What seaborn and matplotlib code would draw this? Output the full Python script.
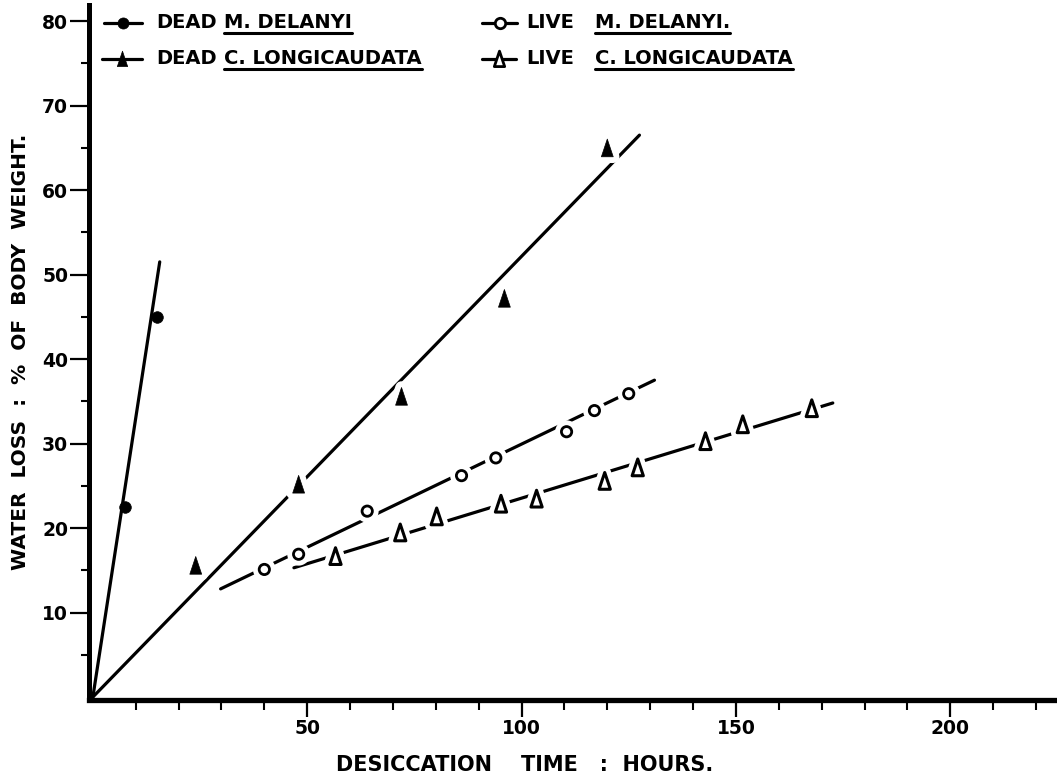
import numpy as np
import pandas as pd
import matplotlib
matplotlib.use("Agg")
import matplotlib.pyplot as plt
import seaborn as sns
from matplotlib.lines import Line2D
from matplotlib.path import Path
from matplotlib.ticker import FixedLocator
import matplotlib.patheffects as pe

# ---------------- data ----------------
dead_md_hours = [7.5, 15.0]
dead_md_loss = [22.5, 45.0]
dead_md_fit_hours = [0.0, 15.6]
dead_md_fit_loss = [0.0, 51.5]

dead_cl_hours = [24, 48, 72, 96, 120]
dead_cl_loss = [15.5, 25.1, 35.5, 47.1, 64.9]
dead_cl_fit_hours = [0.0, 127.5]
dead_cl_fit_loss = [0.0, 66.5]

live_md_hours = [40, 48, 64, 86, 94, 110.5, 117, 125]
live_md_loss = [15.1, 16.9, 22.0, 26.2, 28.3, 31.4, 33.9, 35.9]
live_md_fit_hours = [29.8, 131.0]
live_md_fit_loss = [12.8, 37.5]

live_cl_hours = [56.6, 71.7, 80.2, 95.2, 103.5, 119.4, 127.1, 142.9, 151.6, 167.7]
live_cl_loss = [16.6, 19.4, 21.3, 22.8, 23.4, 25.5, 27.1, 30.2, 32.2, 34.1]
live_cl_fit_hours = [46.9, 172.6]
live_cl_fit_loss = [15.3, 34.8]

x_major = [50, 100, 150, 200]
x_major_labels = ["50", "100", "150", "200"]
x_minor = [10, 20, 30, 40, 60, 70, 80, 90, 110, 120, 130, 140, 160, 170, 180, 190, 210, 220]
y_major = [10, 20, 30, 40, 50, 60, 70, 80]
y_major_labels = ["10", "20", "30", "40", "50", "60", "70", "80"]
y_minor = [5, 15, 25, 35, 45, 55, 65, 75]

legend_status = ["DEAD", "DEAD", "LIVE", "LIVE"]
legend_species = ["M. DELANYI", "C. LONGICAUDATA", "M. DELANYI.", "C. LONGICAUDATA"]

# ---------------- style ----------------
sns.set_style("ticks")
plt.rcParams["font.family"] = ["DejaVu Sans"]
plt.rcParams["font.weight"] = "bold"
for k in ["text.color", "axes.labelcolor", "xtick.color", "ytick.color", "axes.edgecolor"]:
    plt.rcParams[k] = "black"

W, H = 1057, 779
fig = plt.figure(figsize=(W / 100, H / 100), dpi=100)
fig.patch.set_facecolor("white")
ax = fig.add_axes([89 / W, 79 / H, 1 - 89 / W, 695 / H])
ax.set_facecolor("white")

tri = Path([(0, 1.0), (-0.62, -0.85), (0.62, -0.85), (0, 1.0)], closed=True)
halo = [pe.withStroke(linewidth=9, foreground="white")]
LW = 2.3

def fit_line(xs, ys):
    sns.lineplot(x=xs, y=ys, ax=ax, color="black", lw=LW, sort=False,
                 estimator=None, legend=False, zorder=2)

fit_line(dead_md_fit_hours, dead_md_fit_loss)
fit_line(dead_cl_fit_hours, dead_cl_fit_loss)
fit_line(live_md_fit_hours, live_md_fit_loss)
fit_line(live_cl_fit_hours, live_cl_fit_loss)

sns.scatterplot(x=dead_md_hours, y=dead_md_loss, ax=ax, marker="o", s=70,
                color="black", edgecolor="black", linewidth=0.5, zorder=4, legend=False)
sns.scatterplot(x=dead_cl_hours, y=dead_cl_loss, ax=ax, marker=tri, s=190,
                color="black", edgecolor="black", linewidth=0.5, zorder=4, legend=False)
ax.collections[-1].set_path_effects(halo)
sns.scatterplot(x=live_md_hours, y=live_md_loss, ax=ax, marker="o", s=55,
                facecolor="white", edgecolor="black", linewidth=2.0, zorder=4, legend=False)
ax.collections[-1].set_path_effects(halo)
sns.scatterplot(x=live_cl_hours, y=live_cl_loss, ax=ax, marker=tri, s=170,
                facecolor="white", edgecolor="black", linewidth=2.2, zorder=4, legend=False)
ax.collections[-1].set_path_effects(halo)

ax.set_xlim(-0.9, 224.9)
ax.set_ylim(-0.35, 81.9)

for s in ["top", "right"]:
    ax.spines[s].set_visible(False)
ax.spines["left"].set_linewidth(3.6)
ax.spines["bottom"].set_linewidth(3.8)
ax.spines["left"].set_capstyle("projecting")

ax.xaxis.set_major_locator(FixedLocator(x_major))
ax.xaxis.set_minor_locator(FixedLocator(x_minor))
ax.yaxis.set_major_locator(FixedLocator(y_major))
ax.yaxis.set_minor_locator(FixedLocator(y_minor))
ax.set_xticklabels(x_major_labels, fontsize=13.5, fontweight="bold")
ax.set_yticklabels(y_major_labels, fontsize=13.5, fontweight="bold")

ax.tick_params(axis="y", which="major", length=14, width=1.6, pad=1, color="black")
ax.tick_params(axis="y", which="minor", length=6, width=1.5, color="black")
ax.tick_params(axis="x", which="major", length=12, width=1.6, pad=2, color="black")
ax.tick_params(axis="x", which="minor", length=7, width=1.5, color="black")

ax.set_xlabel("DESICCATION    TIME   :  HOURS.", fontsize=15, fontweight="bold")
ax.xaxis.set_label_coords((525 - 89) / (W - 89), (700 - 765) / 695)
ax.xaxis.label.set_va("center")
ax.set_ylabel("WATER  LOSS  :  %  OF  BODY  WEIGHT.", fontsize=14.5, fontweight="bold")
ax.yaxis.set_label_coords((21 - 89) / (W - 89), (700 - 352) / 695)
ax.yaxis.label.set_va("center")

# ---------------- legend (manual, with underlined species names) ----------------
def fx(px):
    return px / W

def fy(py):
    return 1 - py / H

rows = [23, 59, 23, 59]
handle_x = [(104, 142), (102, 142), (482, 517), (482, 516)]
status_x = [156, 156, 526, 526]
species_x = [224, 224, 595, 595]
mk = ["o", tri, "o", tri]
mfc = ["black", "black", "white", "white"]
msz = [8, 12, 7.5, 12]

for i in range(4):
    y = rows[i]
    x0, x1 = handle_x[i]
    fig.add_artist(Line2D([fx(x0), fx(x1)], [fy(y), fy(y)], color="black", lw=LW,
                          transform=fig.transFigure))
    fig.add_artist(Line2D([fx((x0 + x1) / 2)], [fy(y)], marker=mk[i], markersize=msz[i],
                          markerfacecolor=mfc[i], markeredgecolor="black",
                          markeredgewidth=2.0 if mfc[i] == "white" else 0.5,
                          linestyle="none", transform=fig.transFigure))
    fig.text(fx(status_x[i]), fy(y), legend_status[i], fontsize=14, fontweight="bold",
             ha="left", va="center")

species_texts = []
for i in range(4):
    t = fig.text(fx(species_x[i]), fy(rows[i]), legend_species[i], fontsize=14,
                 fontweight="bold", ha="left", va="center")
    species_texts.append(t)

fig.canvas.draw()
renderer = fig.canvas.get_renderer()
for i, t in enumerate(species_texts):
    bb = t.get_window_extent(renderer)
    uy = rows[i] + 10
    fig.add_artist(Line2D([bb.x0 / W, bb.x1 / W], [fy(uy), fy(uy)], color="black", lw=2.2,
                          transform=fig.transFigure))

fig.savefig("out.png", dpi=100, facecolor="white")
